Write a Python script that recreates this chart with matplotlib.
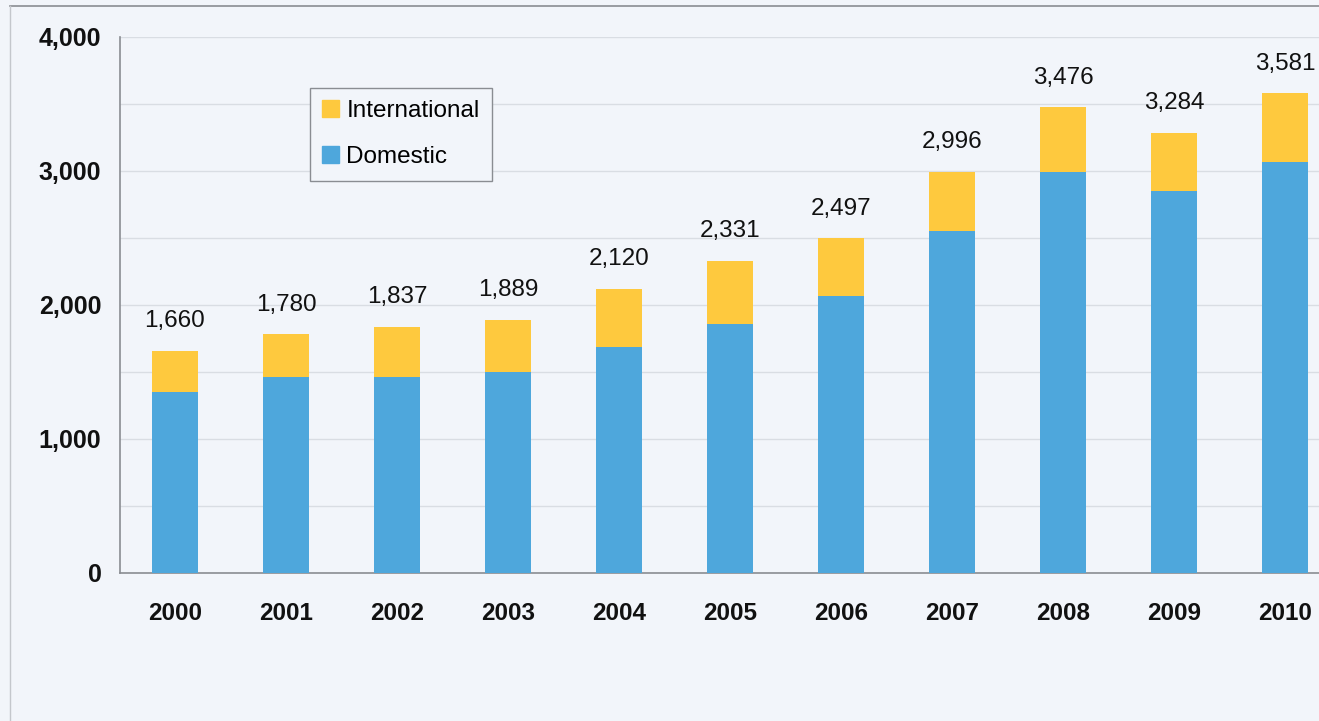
import matplotlib
matplotlib.use("Agg")
import matplotlib.pyplot as plt
from matplotlib.patches import Patch
from matplotlib.lines import Line2D

years = ["2000", "2001", "2002", "2003", "2004", "2005", "2006", "2007", "2008", "2009", "2010"]
totals = [1660, 1780, 1837, 1889, 2120, 2331, 2497, 2996, 3476, 3284, 3581]
domestic = [1350, 1460, 1460, 1500, 1690, 1860, 2070, 2550, 2990, 2850, 3065]
international = [t - d for t, d in zip(totals, domestic)]
yticks = [0, 1000, 2000, 3000, 4000]
ytick_labels = ["0", "1,000", "2,000", "3,000", "4,000"]

blue = "#4ea7dc"
yellow = "#fec93e"
bg = "#f2f5fa"

plt.rcParams['font.family'] = ['Liberation Sans', 'DejaVu Sans']

fig = plt.figure(figsize=(13.19, 7.21), dpi=100, facecolor=bg)
ax = fig.add_axes([119.5 / 1319, 148 / 721, 1221 / 1319, 536 / 721])
ax.set_facecolor(bg)

x = list(range(len(years)))
ax.bar(x, domestic, width=0.41, color=blue, zorder=3, label="Domestic")
ax.bar(x, international, width=0.41, bottom=domestic, color=yellow, zorder=3, label="International")

for xi, t in zip(x, totals):
    ax.annotate(f"{t:,}", (xi, t), xytext=(0, 17), textcoords="offset points",
                ha="center", va="baseline", fontsize=17.5, color="#111111")

ax.set_xlim(-0.5, 10.5)
ax.set_ylim(0, 4000)
ax.set_yticks(yticks)
ax.set_yticklabels(ytick_labels, fontsize=18, fontweight="bold", color="#111111")
ax.set_yticks([500, 1500, 2500, 3500], minor=True)
ax.set_xticks(x)
ax.set_xticklabels(years, fontsize=17.5, fontweight="bold", color="#111111")
ax.tick_params(axis="both", which="both", length=0)
ax.tick_params(axis="y", pad=13)
ax.tick_params(axis="x", pad=21)
ax.grid(axis="y", which="both", color="#d9dde3", linewidth=1, zorder=0)
ax.set_axisbelow(True)
for s in ["top", "right"]:
    ax.spines[s].set_visible(False)
for s in ["left", "bottom"]:
    ax.spines[s].set_color("#8a8d92")
    ax.spines[s].set_linewidth(1.2)

handles = [Patch(color=yellow, label="International"), Patch(color=blue, label="Domestic")]
leg = ax.legend(handles=handles, loc="upper left", bbox_to_anchor=(190.5 / 1221, 1 - 51 / 536),
                fontsize=17.5, frameon=True, fancybox=False, edgecolor="#8a8d92",
                facecolor=bg, framealpha=1, handlelength=0.7, handleheight=0.7,
                handletextpad=0.3, labelspacing=1.0, borderpad=0.5, borderaxespad=0)
leg.get_frame().set_linewidth(1.0)

# scanned page edges
fig.add_artist(Line2D([10 / 1319, 1], [1 - 6 / 721, 1 - 6 / 721], color="#8a8d92", lw=1.2, transform=fig.transFigure))
fig.add_artist(Line2D([10 / 1319, 10 / 1319], [0, 1 - 6 / 721], color="#c4c7cc", lw=1.0, transform=fig.transFigure))

fig.savefig("out.png", dpi=100, facecolor=bg)
